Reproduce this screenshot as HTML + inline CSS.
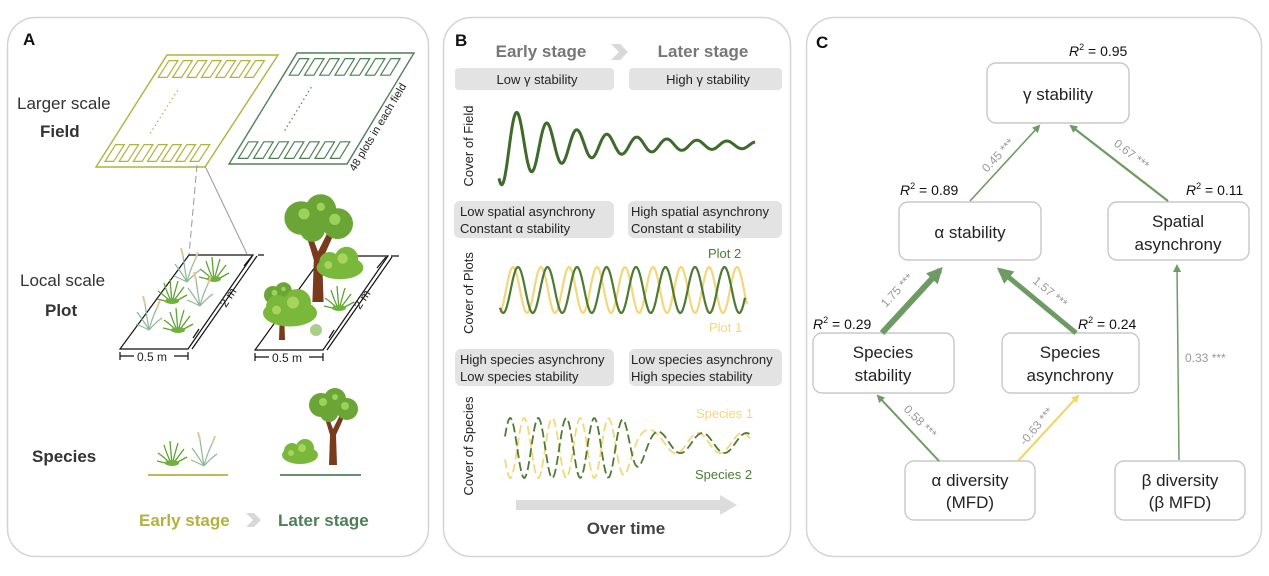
<!DOCTYPE html>
<html><head><meta charset="utf-8"><style>
html,body{margin:0;padding:0;background:#fff;}
svg{display:block;font-family:"Liberation Sans",sans-serif;}
</style></head><body>
<svg id="s" width="1269" height="576" viewBox="0 0 1269 576" xmlns="http://www.w3.org/2000/svg">
<defs>
<marker id="ag" markerWidth="8" markerHeight="8" refX="6" refY="4" orient="auto" markerUnits="userSpaceOnUse"><path d="M0,0 L8,4 L0,8 Z" fill="#6e9a64"/></marker>
<marker id="agb" markerWidth="16" markerHeight="16" refX="12" refY="8" orient="auto" markerUnits="userSpaceOnUse"><path d="M0,0 L16,8 L0,16 Z" fill="#6e9a64"/></marker>
<marker id="ay" markerWidth="8" markerHeight="8" refX="6" refY="4" orient="auto" markerUnits="userSpaceOnUse"><path d="M0,0 L8,4 L0,8 Z" fill="#f2d66b"/></marker>
<g id="grass"><g stroke="#5aa32e" stroke-width="1.3" fill="none"><path d="M0,0 Q-8,-8 -14,-12"/><path d="M0,0 Q-5,-10 -8,-20"/><path d="M0,0 Q-1,-12 -2,-24"/><path d="M0,0 Q3,-12 6,-22"/><path d="M0,0 Q6,-8 12,-16"/><path d="M0,0 Q8,-4 15,-8"/><path d="M0,0 Q-10,-3 -15,-4"/></g><ellipse cx="0" cy="-2" rx="7" ry="3" fill="#6fb23b"/></g>
<g id="reed"><g stroke="#8fb79a" stroke-width="1.2" fill="none"><path d="M0,0 Q-6,-10 -12,-18"/><path d="M0,0 Q-2,-12 -4,-26"/><path d="M0,0 Q3,-12 8,-22"/><path d="M0,0 Q7,-8 13,-12"/><path d="M0,0 Q-8,-4 -13,-6"/></g><g stroke="#e2c79a" stroke-width="2"><path d="M-4,-26 L-6,-34"/><path d="M8,-22 L11,-30"/></g></g>
<g id="tree"><path d="M-4,0 L4,0 L3,-30 L12,-50 L8,-52 L0,-36 L-6,-52 L-9,-50 L-3,-30 Z" fill="#7a3a1e"/><g fill="#6aa536"><circle cx="-12" cy="-60" r="12"/><circle cx="2" cy="-66" r="11"/><circle cx="14" cy="-56" r="11"/><circle cx="-4" cy="-52" r="9"/></g><g fill="#9bd25a"><circle cx="-10" cy="-63" r="4"/><circle cx="12" cy="-59" r="4"/><circle cx="2" cy="-68" r="3"/></g></g>
<g id="bush"><g fill="#7ab83c"><ellipse cx="0" cy="-8" rx="18" ry="9"/><circle cx="-8" cy="-12" r="8"/><circle cx="5" cy="-15" r="9"/></g><g fill="#a6d45f"><circle cx="2" cy="-15" r="4"/><circle cx="-9" cy="-10" r="3"/></g></g>
</defs>

<rect x="7.5" y="17.5" width="421" height="539" rx="28" fill="none" stroke="#d4d4d4" stroke-width="1.5"/>
<rect x="443.5" y="17.5" width="347" height="539" rx="28" fill="none" stroke="#d4d4d4" stroke-width="1.5"/>
<rect x="806.5" y="17.5" width="455" height="539" rx="28" fill="none" stroke="#d4d4d4" stroke-width="1.5"/>

<!-- Panel A -->
<text x="23" y="45" font-size="17" font-weight="bold" fill="#111">A</text>
<text x="17" y="109" font-size="17" fill="#333">Larger scale</text>
<text x="40" y="137" font-size="17" font-weight="bold" fill="#333">Field</text>
<polygon points="96,167 205,167 278,55 167,55" fill="none" stroke="#b4b13c" stroke-width="1.4"/>
<polygon points="229,164 347,164 414,53 297,53" fill="none" stroke="#4e8057" stroke-width="1.4"/>
<g id="rowsE" fill="none" stroke="#b4b13c" stroke-width="1.2"></g>
<g id="rowsL" fill="none" stroke="#4e8057" stroke-width="1.2"></g>
<text font-size="11" fill="#222" transform="translate(355,172) rotate(-59)">48 plots in each field</text>
<line x1="197" y1="165" x2="189" y2="255" stroke="#999" stroke-dasharray="7,4" stroke-width="1"/>
<line x1="205" y1="166" x2="247" y2="254" stroke="#999" stroke-width="1"/>

<text x="20" y="286" font-size="17" fill="#333">Local scale</text>
<text x="45" y="316" font-size="17" font-weight="bold" fill="#333">Plot</text>
<polygon points="120,349 188,349 253,255 189,255" fill="none" stroke="#111" stroke-width="1.2"/>
<polygon points="255,350 323,350 388,256 323,256" fill="none" stroke="#111" stroke-width="1.2"/>
<g stroke="#111" stroke-width="1.2" fill="none">
<path d="M120,352 v8 M120,356 h14 M174,356 h14 M188,352 v8"/>
<path d="M255,353 v8 M255,357 h14 M309,357 h14 M323,353 v8"/>
<path d="M192,349 L257,256 M258,255 h6 M193,338 L199,329 M244,266 L252,256"/>
<path d="M327,350 L392,257 M391,256 h8 M329,338 L334,330 M377,268 L386,257"/>
</g>
<text x="137" y="361" font-size="12" fill="#222">0.5 m</text>
<text x="272" y="362" font-size="12" fill="#222">0.5 m</text>
<text font-size="12" fill="#222" transform="translate(226,308) rotate(-57)">2 m</text>
<text font-size="12" fill="#222" transform="translate(360,310) rotate(-57)">2 m</text>
<use href="#reed" x="187" y="282"/><use href="#grass" x="214" y="281"/>
<use href="#grass" x="172" y="303"/><use href="#reed" x="200" y="306"/>
<use href="#reed" x="149" y="330"/><use href="#grass" x="178" y="332"/>
<use href="#tree" x="318" y="302" transform="translate(318,302) scale(1.4) translate(-318,-302)"/>
<use href="#bush" x="340" y="278" transform="translate(340,278) scale(1.3) translate(-340,-278)"/>
<use href="#tree" x="282" y="340" transform="translate(282,340) scale(0.75) translate(-282,-340)"/>
<use href="#bush" x="290" y="325" transform="translate(290,325) scale(1.5) translate(-290,-325)"/>
<use href="#grass" x="339" y="310"/>
<circle cx="316" cy="330" r="6" fill="#a8d08a"/>

<text x="32" y="462" font-size="17" font-weight="bold" fill="#333">Species</text>
<use href="#grass" x="172" y="465"/><use href="#reed" x="204" y="466"/>
<use href="#bush" x="300" y="463"/><use href="#tree" x="333" y="465"/>
<line x1="148" y1="475" x2="228" y2="475" stroke="#b4b13c" stroke-width="1.8"/>
<line x1="280" y1="475" x2="361" y2="475" stroke="#4e8057" stroke-width="1.8"/>
<text x="139" y="526" font-size="17" font-weight="bold" fill="#b4b13c">Early stage</text>
<path d="M246,513 h8 l7,7 l-7,7 h-8 l7,-7 Z" fill="#d8d8d8"/>
<text x="278" y="526" font-size="17" font-weight="bold" fill="#4e8057">Later stage</text>

<!-- Panel B -->
<text x="455" y="46" font-size="17" font-weight="bold" fill="#111">B</text>
<text x="541" y="57" font-size="17" font-weight="bold" fill="#777" text-anchor="middle">Early stage</text>
<path d="M611,44 h9 l8,8 l-8,8 h-9 l8,-8 Z" fill="#d8d8d8"/>
<text x="703" y="57" font-size="17" font-weight="bold" fill="#777" text-anchor="middle">Later stage</text>
<rect x="455" y="68" width="159" height="22" rx="4" fill="#e3e3e3"/>
<rect x="629" y="68" width="153" height="22" rx="4" fill="#e3e3e3"/>
<text x="537" y="84" font-size="13" fill="#222" text-anchor="middle">Low γ stability</text>
<text x="708" y="84" font-size="13" fill="#222" text-anchor="middle">High γ stability</text>
<text font-size="13" fill="#222" text-anchor="middle" transform="translate(473,146) rotate(-90)">Cover of Field</text>
<path id="wf" fill="none" stroke="#3e6a2b" stroke-width="3"/>

<rect x="454" y="201" width="160" height="37" rx="6" fill="#e3e3e3"/>
<rect x="628" y="201" width="154" height="37" rx="6" fill="#e3e3e3"/>
<g font-size="13" fill="#222">
<text x="460" y="216">Low spatial asynchrony</text><text x="460" y="233">Constant α stability</text>
<text x="631" y="216">High spatial asynchrony</text><text x="631" y="233">Constant α stability</text>
</g>
<text font-size="13" fill="#222" text-anchor="middle" transform="translate(473,293) rotate(-90)">Cover of Plots</text>
<path id="wy" fill="none" stroke="#f4d77a" stroke-width="2.2"/>
<path id="wg" fill="none" stroke="#4e7a34" stroke-width="2.2"/>
<text x="708" y="258" font-size="13" fill="#4e7a34">Plot 2</text>
<text x="709" y="332" font-size="13" fill="#f4d77a">Plot 1</text>

<rect x="455" y="349" width="159" height="37" rx="6" fill="#e3e3e3"/>
<rect x="629" y="349" width="153" height="37" rx="6" fill="#e3e3e3"/>
<g font-size="13" fill="#222">
<text x="460" y="364">High species asynchrony</text><text x="460" y="381">Low species stability</text>
<text x="631" y="364">Low species asynchrony</text><text x="631" y="381">High species stability</text>
</g>
<text font-size="13" fill="#222" text-anchor="middle" transform="translate(473,446) rotate(-90)">Cover of Species</text>
<path id="sy" fill="none" stroke="#f4d77a" stroke-width="1.8" stroke-dasharray="9,4"/>
<path id="sg" fill="none" stroke="#4e7a34" stroke-width="1.8" stroke-dasharray="9,4"/>
<text x="696" y="418" font-size="13" fill="#f4d77a">Species 1</text>
<text x="695" y="479" font-size="13" fill="#4e7a34">Species 2</text>
<path d="M516,500 H720 V495 L737,505 L720,515 V510 H516 Z" fill="#dcdcdc"/>
<text x="626" y="534" font-size="17" font-weight="bold" fill="#444" text-anchor="middle">Over time</text>

<!-- Panel C -->
<text x="816" y="48" font-size="17" font-weight="bold" fill="#111">C</text>
<g fill="#fff" stroke="#c8c8c8" stroke-width="1.4">
<rect x="987" y="63" width="142" height="60" rx="9"/>
<rect x="899" y="202" width="142" height="58" rx="9"/>
<rect x="1108" y="202" width="141" height="58" rx="9"/>
<rect x="813" y="333" width="141" height="60" rx="9"/>
<rect x="1002" y="333" width="137" height="60" rx="9"/>
<rect x="905" y="461" width="130" height="59" rx="9"/>
<rect x="1115" y="461" width="130" height="59" rx="9"/>
</g>
<g font-size="17" fill="#222" text-anchor="middle">
<text x="1058" y="100">γ stability</text>
<text x="970" y="238">α stability</text>
<text x="1178" y="227">Spatial</text><text x="1178" y="250">asynchrony</text>
<text x="883" y="358">Species</text><text x="883" y="381">stability</text>
<text x="1070" y="358">Species</text><text x="1070" y="381">asynchrony</text>
<text x="970" y="486">α diversity</text><text x="970" y="508">(MFD)</text>
<text x="1180" y="486">β diversity</text><text x="1180" y="508">(β MFD)</text>
</g>
<g font-size="14" fill="#111">
<text x="1069" y="56"><tspan font-style="italic">R</tspan><tspan font-size="9" dy="-6">2</tspan><tspan dy="6"> = 0.95</tspan></text>
<text x="900" y="195"><tspan font-style="italic">R</tspan><tspan font-size="9" dy="-6">2</tspan><tspan dy="6"> = 0.89</tspan></text>
<text x="1186" y="195"><tspan font-style="italic">R</tspan><tspan font-size="9" dy="-6">2</tspan><tspan dy="6"> = 0.11</tspan></text>
<text x="813" y="329"><tspan font-style="italic">R</tspan><tspan font-size="9" dy="-6">2</tspan><tspan dy="6"> = 0.29</tspan></text>
<text x="1078" y="329"><tspan font-style="italic">R</tspan><tspan font-size="9" dy="-6">2</tspan><tspan dy="6"> = 0.24</tspan></text>
</g>
<g stroke="#6e9a64" fill="none">
<line x1="970" y1="201" x2="1039" y2="126" stroke-width="1.6" marker-end="url(#ag)"/>
<line x1="1168" y1="201" x2="1071" y2="126" stroke-width="2.2" marker-end="url(#ag)"/>
<line x1="882" y1="333" x2="940" y2="270" stroke-width="6" marker-end="url(#agb)" />
<line x1="1076" y1="333" x2="1000" y2="270" stroke-width="5" marker-end="url(#agb)"/>
<line x1="939" y1="461" x2="878" y2="396" stroke-width="2" marker-end="url(#ag)"/>
<line x1="1179" y1="460" x2="1177" y2="266" stroke-width="1.5" marker-end="url(#ag)"/>
</g>
<line x1="1018" y1="461" x2="1078" y2="396" stroke="#f2d66b" stroke-width="2.2" marker-end="url(#ay)"/>
<g font-size="12" fill="#999">
<text transform="translate(987,173) rotate(-47)">0.45 ***</text>
<text transform="translate(1113,145) rotate(38)">0.67 ***</text>
<text transform="translate(886,308) rotate(-47)">1.75 ***</text>
<text transform="translate(1032,282) rotate(40)">1.57 ***</text>
<text transform="translate(903,410) rotate(45)">0.58 ***</text>
<text transform="translate(1025,446) rotate(-50)">-0.63 ***</text>
<text x="1185" y="362">0.33 ***</text>
</g>
</svg>
<script>
function P(f,x0,x1){let d="";for(let x=x0;x<=x1;x+=1){d+=(x==x0?"M":"L")+x.toFixed(1)+","+f(x).toFixed(1);}return d;}
const T=2*Math.PI;
document.getElementById("wf").setAttribute("d",P(x=>{let A=30*Math.exp(-(x-517)/70)+2.5;return 145-A*Math.sin(T*(x-509.5)/30);},499,755));
document.getElementById("wg").setAttribute("d",P(x=>290-23*Math.sin(T*(x-518)/29.5+Math.PI/2),500,745));
document.getElementById("wy").setAttribute("d",P(x=>290-23*Math.sin(T*(x-513)/28+Math.PI/2),500,747));
function sp(sign){let ph=0,d="";for(let x=505;x<=750;x++){let w=1/(1+Math.exp(-(x-640)/8));let per=28*(1-w)+44*w;ph+=T/per;let A=30*(1-w)+10*w;let c=448*(1-w)+443*w;let off=sign>0?-1.4:(Math.PI-1.4)*(1-w)+(-0.8)*w;let y=c-A*Math.cos(ph+off);d+=(x==505?"M":"L")+x+","+y.toFixed(1);}return d;}
document.getElementById("sg").setAttribute("d",sp(1));
document.getElementById("sy").setAttribute("d",sp(-1));
function rows(id,bl,br,tl,tr){let g=document.getElementById(id),s="";
 const L=(a,b,t)=>[a[0]+(b[0]-a[0])*t,a[1]+(b[1]-a[1])*t];
 function row(y0,y1){
  for(let i=0;i<7;i++){let t0=0.05+i*0.13,t1=t0+0.08;
   let pts=[[t0,y0],[t1,y0],[t1,y1],[t0,y1]].map(([t,v])=>{let b=L(bl,br,t),u=L(tl,tr,t);return L(b,u,v);});
   s+='<polygon points="'+pts.map(p=>p[0].toFixed(1)+","+p[1].toFixed(1)).join(" ")+'"/>';}}
 row(0.05,0.2);row(0.8,0.95);
 let a=L(L(bl,br,0.3),L(tl,tr,0.3),0.3),b=L(L(bl,br,0.3),L(tl,tr,0.3),0.7);
 s+='<line x1="'+a[0]+'" y1="'+a[1]+'" x2="'+b[0]+'" y2="'+b[1]+'" stroke-dasharray="1.5,3"/>';
 g.innerHTML=s;}
rows("rowsE",[96,167],[205,167],[167,55],[278,55]);
rows("rowsL",[229,164],[347,164],[297,53],[414,53]);
</script>
</body></html>
